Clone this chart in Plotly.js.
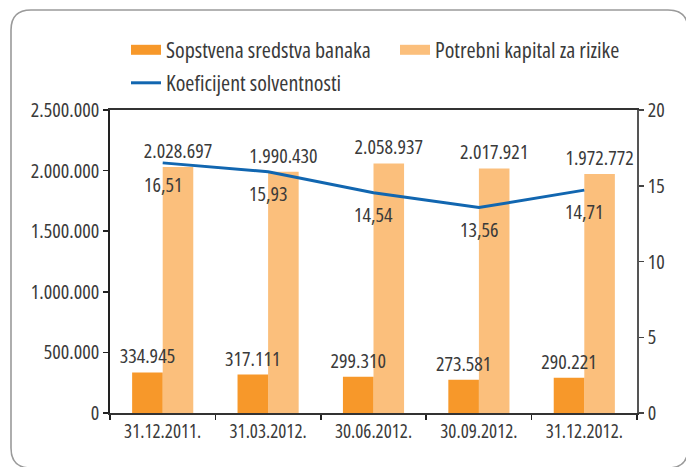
<!DOCTYPE html>
<html>
<head>
<meta charset="utf-8">
<script src="https://cdn.plot.ly/plotly-3.0.1.min.js"></script>
<style>
html,body{margin:0;padding:0;background:#fff;}
#chart{width:686px;height:467px;}
svg text{font-stretch:75%;}
</style>
</head>
<body>
<div id="chart"></div>
<script>
// ---- data ----
var categories = ['31.12.2011.', '31.03.2012.', '30.06.2012.', '30.09.2012.', '31.12.2012.'];
var sopstvenaSredstva = [334945, 317111, 299310, 273581, 290221];
var potrebniKapital = [2028697, 1990430, 2058937, 2017921, 1972772];
var koeficijent = [16.51, 15.93, 14.54, 13.56, 14.71];
var seriesNames = ['Sopstvena sredstva banaka', 'Potrebni kapital za rizike', 'Koeficijent solventnosti'];
var leftTicks = [0, 500000, 1000000, 1500000, 2000000, 2500000];
var rightTicks = [0, 5, 10, 15, 20];

// ---- helpers ----
function fmtInt(v) {
  return String(Math.round(v)).replace(/\B(?=(\d{3})+(?!\d))/g, '.');
}
function fmtDec(v) {
  return v.toFixed(2).replace('.', ',');
}
var FONT = '"Open Sans", "Noto Sans", sans-serif';
var TXT = '#3a3a3a';
var C_DARK = '#F7982A';
var C_LIGHT = '#FBBF7C';
var C_LINE = '#1166B0';
var BAR_W = 0.29;

var W = 686, H = 467;
var M = {l: 110, r: 49, t: 110, b: 54};
var PW = W - M.l - M.r, PH = H - M.t - M.b;
function px(x) { return (x - M.l) / PW; }
function py(y) { return (H - M.b - y) / PH; }

// frame (rounded rectangle) in paper coordinates
var fl = 11, ft = 10, fr = 688, fb = 468, rr = 20;
var framePath = 'M' + px(fl + rr) + ',' + py(ft) +
  ' L' + px(fr - rr) + ',' + py(ft) +
  ' Q' + px(fr) + ',' + py(ft) + ' ' + px(fr) + ',' + py(ft + rr) +
  ' L' + px(fr) + ',' + py(fb - rr) +
  ' Q' + px(fr) + ',' + py(fb) + ' ' + px(fr - rr) + ',' + py(fb) +
  ' L' + px(fl + rr) + ',' + py(fb) +
  ' Q' + px(fl) + ',' + py(fb) + ' ' + px(fl) + ',' + py(fb - rr) +
  ' L' + px(fl) + ',' + py(ft + rr) +
  ' Q' + px(fl) + ',' + py(ft) + ' ' + px(fl + rr) + ',' + py(ft) + ' Z';

var traces = [
  // light bars first so the dark-bar labels are drawn on top of them
  {
    type: 'bar', x: categories, y: potrebniKapital, name: seriesNames[1],
    marker: {color: C_LIGHT}, showlegend: false, width: BAR_W, offset: 0,
    text: potrebniKapital.map(fmtInt), textposition: 'outside', textangle: 0,
    constraintext: 'none', cliponaxis: false,
    textfont: {family: FONT, size: 20, color: TXT}, hoverinfo: 'skip'
  },
  {
    type: 'bar', x: categories, y: sopstvenaSredstva, name: seriesNames[0],
    marker: {color: C_DARK}, showlegend: false, width: BAR_W, offset: -BAR_W,
    text: sopstvenaSredstva.map(fmtInt), textposition: 'outside', textangle: 0,
    constraintext: 'none', cliponaxis: false,
    textfont: {family: FONT, size: 20, color: TXT}, hoverinfo: 'skip'
  },
  {
    type: 'scatter', mode: 'lines', x: categories, y: koeficijent, yaxis: 'y2',
    name: seriesNames[2], line: {color: C_LINE, width: 3}, legend: 'legend2',
    cliponaxis: false, hoverinfo: 'skip'
  },
  // legend swatches for the bar series
  {
    type: 'scatter', mode: 'lines', x: [null], y: [null], name: seriesNames[0],
    line: {color: C_DARK, width: 11}, legendwidth: 224, hoverinfo: 'skip'
  },
  {
    type: 'scatter', mode: 'lines', x: [null], y: [null], name: seriesNames[1],
    line: {color: C_LIGHT, width: 11}, legendwidth: 185, hoverinfo: 'skip'
  }
];

var annotations = categories.map(function (c, i) {
  return {
    x: c, y: koeficijent[i], xref: 'x', yref: 'y2',
    text: fmtDec(koeficijent[i]), showarrow: false,
    yanchor: 'top', xanchor: 'center', yshift: -6,
    font: {family: FONT, size: 20, color: TXT}
  };
});

var layout = {
  width: W, height: H,
  margin: M,
  paper_bgcolor: '#ffffff', plot_bgcolor: 'rgba(0,0,0,0)',
  font: {family: FONT, size: 20, color: TXT},
  barmode: 'overlay',
  showlegend: true,
  legend: {
    orientation: 'h', x: px(126), xanchor: 'left', y: 1 + (M.t - 29) / PH, yanchor: 'top',
    font: {family: FONT, size: 22, color: TXT}, traceorder: 'normal',
    bgcolor: 'rgba(0,0,0,0)'
  },
  legend2: {
    orientation: 'h', x: px(126), xanchor: 'left', y: 1 + (M.t - 62) / PH, yanchor: 'top',
    font: {family: FONT, size: 22, color: TXT}, traceorder: 'normal',
    bgcolor: 'rgba(0,0,0,0)'
  },
  xaxis: {
    type: 'category', tickson: 'boundaries', ticks: 'outside', ticklen: 5,
    tickcolor: '#222', tickwidth: 1.5, tickangle: 0,
    showline: true, linecolor: '#333', linewidth: 1.8, mirror: true,
    showgrid: false, zeroline: false,
    tickfont: {family: FONT, size: 19, color: TXT}
  },
  yaxis: {
    range: [0, 2500000], tickvals: leftTicks, ticktext: leftTicks.map(fmtInt),
    ticks: 'outside', ticklen: 5, tickcolor: '#222', tickwidth: 1.5,
    showline: true, linecolor: '#222', linewidth: 1.8,
    showgrid: false, zeroline: false,
    tickfont: {family: FONT, size: 20, color: TXT}
  },
  yaxis2: {
    overlaying: 'y', side: 'right', range: [0, 20], tickvals: rightTicks,
    ticks: 'outside', ticklen: 5, tickcolor: '#444', tickwidth: 1.5,
    showline: true, linecolor: '#555', linewidth: 1.8,
    showgrid: false, zeroline: false,
    tickfont: {family: FONT, size: 20, color: TXT}
  },
  annotations: annotations,
  shapes: [{
    type: 'path', xref: 'paper', yref: 'paper', path: framePath,
    line: {color: '#9a9a9a', width: 1.6}, layer: 'below'
  }]
};

Plotly.newPlot('chart', traces, layout, {displayModeBar: false, staticPlot: true});
</script>
</body>
</html>
